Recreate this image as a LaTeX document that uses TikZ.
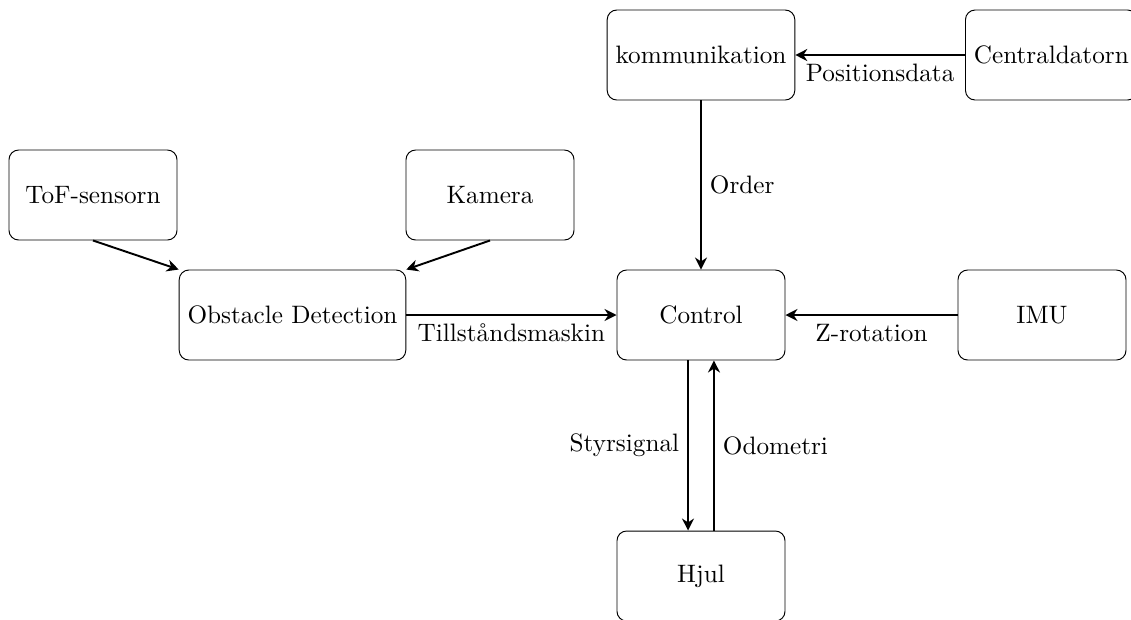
\documentclass[tikz,border=0pt]{standalone}
\usetikzlibrary{arrows.meta}
\begin{document}
\begin{tikzpicture}[x=0.4167pt, y=-0.4167pt,
  font=\fontsize{10.5}{12.6}\selectfont,
  block/.style={draw, rounded corners=4pt, minimum width=70pt, minimum height=37.5pt, inner sep=3.5pt},
  flow/.style={thick, -{Stealth[length=5pt,width=5pt]}}]
  \useasboundingbox (0,0) rectangle (1131,619);
  % blocks
  \node[block] (komm) at (701,55) {kommunikation};
  \node[block, anchor=west] (cent) at (965,55) {Centraldatorn};
  \node[block] (tof) at (93,195) {ToF-sensorn};
  \node[block] (kam) at (490,195) {Kamera};
  \node[block] (obs) at (292.5,315) {Obstacle Detection};
  \node[block] (ctrl) at (701,315) {Control};
  \node[block] (imu) at (1042,315) {IMU};
  \node[block] (hjul) at (701,576) {Hjul};
  % signals
  \draw[flow] (cent.west) -- node[below] {Positionsdata} (komm.east);
  \draw[flow] (komm.south) -- node[right] {Order} (ctrl.north);
  \draw[flow] (tof.south) -- (obs.north west);
  \draw[flow] (kam.south) -- (obs.north east);
  \draw[flow] (obs.east) -- node[below] {Tillståndsmaskin} (ctrl.west);
  \draw[flow] (imu.west) -- node[below] {Z-rotation} (ctrl.east);
  \draw[flow] ([xshift=-5.4pt]ctrl.south) -- node[left] {Styrsignal} ([xshift=-5.4pt]hjul.north);
  \draw[flow] ([xshift=5.4pt]hjul.north) -- node[right] {Odometri} ([xshift=5.4pt]ctrl.south);
\end{tikzpicture}
\end{document}
